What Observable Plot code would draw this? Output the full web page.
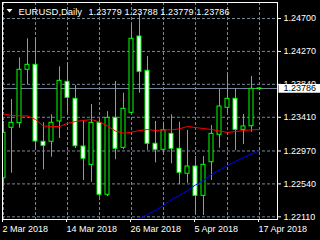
<!DOCTYPE html>
<html><head><meta charset="utf-8">
<script src="https://cdn.jsdelivr.net/npm/d3@7"></script>
<script src="https://cdn.jsdelivr.net/npm/@observablehq/plot@0.6"></script>
<style>html,body{margin:0;padding:0;background:#000;overflow:hidden}</style>
</head><body><div id="chart"></div>
<script>
// ---- data (EURUSD daily) ----
const dates = ["2 Mar","5 Mar","6 Mar","7 Mar","8 Mar","9 Mar","12 Mar","13 Mar","14 Mar","15 Mar","16 Mar",
  "19 Mar","20 Mar","21 Mar","22 Mar","23 Mar","26 Mar","27 Mar","28 Mar","29 Mar","30 Mar",
  "2 Apr","3 Apr","4 Apr","5 Apr","6 Apr","9 Apr","10 Apr","11 Apr","12 Apr","13 Apr","16 Apr","17 Apr"];
const opens  = [1.22614,1.23273,1.23333,1.24030,1.24095,1.23090,1.23090,1.23355,1.23873,1.23651,1.23028,1.22789,1.23338,1.22398,1.23403,1.23011,1.23468,1.24465,1.24017,1.23064,1.22985,1.23194,1.22998,1.22672,1.22767,1.22384,1.22823,1.23181,1.23534,1.23651,1.23246,1.23293,1.23779];
const highs  = [1.23355,1.23642,1.24187,1.24435,1.24448,1.23338,1.23442,1.24069,1.24121,1.23825,1.23359,1.23577,1.23368,1.23485,1.23877,1.23724,1.24609,1.24761,1.24204,1.23355,1.23346,1.23442,1.23346,1.23237,1.22898,1.22898,1.23303,1.23773,1.23969,1.23782,1.23446,1.23943,1.23788];
const lows   = [1.22497,1.22680,1.23267,1.23838,1.22976,1.22724,1.22889,1.23133,1.23455,1.23002,1.22584,1.22562,1.22366,1.22375,1.22855,1.22985,1.23455,1.23724,1.22976,1.22815,1.22924,1.22802,1.22528,1.22549,1.22149,1.22127,1.22584,1.23006,1.23455,1.22976,1.23054,1.23215,1.23779];
const closes = [1.23207,1.23338,1.24030,1.24095,1.23094,1.23037,1.23338,1.23886,1.23664,1.23032,1.22868,1.23338,1.22398,1.23403,1.22998,1.23521,1.24435,1.24004,1.23064,1.22985,1.23241,1.22998,1.22685,1.22767,1.22384,1.22789,1.23194,1.23551,1.23651,1.23246,1.23290,1.23782,1.23786];
const maRed  = [1.23453,1.23433,1.23429,1.23427,1.23381,1.23296,1.23290,1.23290,1.23329,1.23355,1.23368,1.23381,1.23348,1.23296,1.23231,1.23202,1.23215,1.23237,1.23250,1.23237,1.23244,1.23246,1.23259,1.23290,1.23276,1.23263,1.23250,1.23231,1.23211,1.23224,1.23237,1.23246,1.23250];
const blueStart = 16;
const maBlue = [1.22036,1.22088,1.22140,1.22193,1.22258,1.22336,1.22388,1.22454,1.22526,1.22584,1.22663,1.22721,1.22780,1.22832,1.22885,1.22930,1.22970];
const priceTicks = [1.24700,1.24270,1.23840,1.23410,1.22970,1.22540,1.22110];
const gridIdx = [0,4,8,12,16,20,24,28,32];
const dateTickIdx = [0,8,16,24,32];
const dateTickLabels = ["2 Mar 2018","14 Mar 2018","26 Mar 2018","5 Apr 2018","17 Apr 2018"];
const symbolName = "EURUSD,Daily";
const lastOHLC = [1.23779,1.23788,1.23779,1.23786];
const bid = 1.23786;

// ---- tables ----
const candles = dates.map((d,i)=>({i, date:d, open:opens[i], high:highs[i], low:lows[i], close:closes[i]}));
const red = maRed.map((v,i)=>({i, v}));
const blue = maBlue.map((v,i)=>({i:i+blueStart, v}));

const GREEN = "#00ff00", GRID = "#778899";
const flatTri = {draw(ctx){ ctx.moveTo(-3,-1.5); ctx.lineTo(3,-1.5); ctx.lineTo(0,2); ctx.closePath(); }};
const priceBox = {draw(ctx){ ctx.rect(1,-4.5,44,8.8); }};

const chart = Plot.plot({
  width: 320, height: 240,
  marginLeft: 2, marginRight: 43, marginTop: 2, marginBottom: 21,
  x: {type: "linear", domain: [-0.125, 34.25], axis: null, label: null},
  y: {domain: [1.22075, 1.24909], axis: null, label: null},
  style: {background: "#000", color: "#fff", fontFamily: "'Liberation Sans', Arial, sans-serif", fontSize: "9px", overflow: "visible"},
  marks: [
    Plot.ruleY(priceTicks, {stroke: GRID, strokeDasharray: "3,2"}),
    Plot.ruleX(gridIdx, {stroke: GRID, strokeDasharray: "3,2"}),
    Plot.ruleY([bid], {stroke: GRID}),
    Plot.ruleX(candles, {x: "i", y1: "low", y2: "high", stroke: GREEN, clip: true}),
    Plot.rect(candles, {x1: d => d.i - 0.25, x2: d => d.i + 0.25, y1: "open", y2: "close",
      fill: d => d.close >= d.open ? "black" : "white", stroke: GREEN, clip: true}),
    Plot.line(red, {x: "i", y: "v", stroke: "#ff0000", strokeWidth: 1, clip: true}),
    Plot.line(blue, {x: "i", y: "v", stroke: "#0000ff", strokeWidth: 1, clip: true}),
    Plot.axisY(priceTicks, {anchor: "right", tickSize: 3, tickPadding: 3, stroke: "white", fill: "white",
      tickFormat: d => d.toFixed(5), fontSize: 9, label: null}),
    Plot.axisX(dateTickIdx, {anchor: "bottom", tickSize: 3, tickPadding: 3, stroke: "white", fill: "white",
      tickFormat: d => dateTickLabels[dateTickIdx.indexOf(d)], textAnchor: "start", dx: -1, fontSize: 9, label: null}),
    Plot.dot([bid], {y: d => d, frameAnchor: "right", symbol: priceBox, fill: "white", stroke: "none"}),
    Plot.text([bid], {y: d => d, text: d => d.toFixed(5), frameAnchor: "right", dx: 6, textAnchor: "start", fill: "black", fontSize: 9}),
    Plot.frame({stroke: "white"}),
    Plot.dot([0], {frameAnchor: "top-left", dx: 7, dy: 8, symbol: flatTri, fill: "white", stroke: "none"}),
    Plot.text([symbolName], {text: d => d, frameAnchor: "top-left", dx: 16, dy: 12, textAnchor: "start", lineAnchor: "bottom", fill: "white", fontSize: 9.5}),
    Plot.text([lastOHLC.map(v => v.toFixed(5)).join(" ")], {text: d => d, frameAnchor: "top-left", dx: 86, dy: 12, textAnchor: "start", lineAnchor: "bottom", fill: "white", fontSize: 9})
  ]
});
document.getElementById("chart").appendChild(chart);
d3.select(chart).selectAll("text").filter(function(){ return this.textContent === symbolName; })
  .attr("textLength", 63.5).attr("lengthAdjust", "spacingAndGlyphs");
d3.select(chart).selectAll("text").filter(function(){ return this.textContent === lastOHLC.map(v => v.toFixed(5)).join(" "); })
  .attr("textLength", 141).attr("lengthAdjust", "spacing");
</script></body></html>
